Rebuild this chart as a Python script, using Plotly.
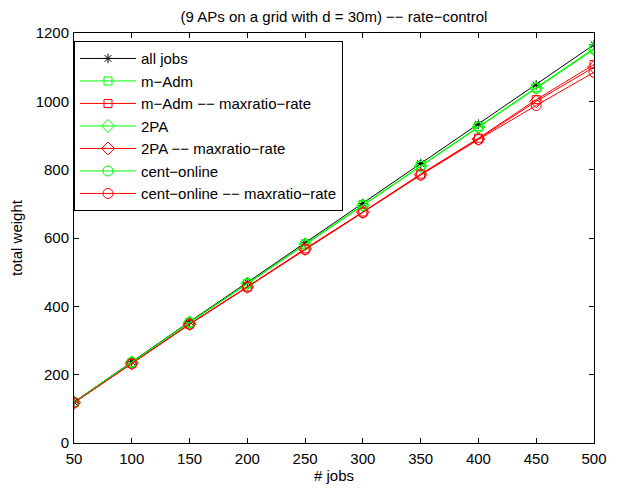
import plotly.graph_objects as go

jobs = [50, 100, 150, 200, 250, 300, 350, 400, 450, 500]
all_jobs = [120, 238, 355, 470, 586, 701, 818, 933, 1048, 1166]
m_adm = [119, 236, 353, 467, 582, 697, 812, 926, 1040, 1155]
m_adm_mr = [118, 233, 348, 457, 568, 676, 787, 892, 1005, 1108]
two_pa = [119, 236, 353, 467, 582, 696, 811, 925, 1039, 1153]
two_pa_mr = [118, 233, 348, 457, 568, 676, 786, 890, 1000, 1100]
cent = [119, 236, 352, 466, 581, 695, 810, 924, 1038, 1152]
cent_mr = [118, 232, 347, 456, 566, 674, 784, 888, 988, 1085]

names = ["all jobs", "m−Adm", "m−Adm −− maxratio−rate", "2PA", "2PA −− maxratio−rate",
         "cent−online", "cent−online −− maxratio−rate"]
series = [all_jobs, m_adm, m_adm_mr, two_pa, two_pa_mr, cent, cent_mr]
colors = ["#000000", "#00ff00", "#ff0000", "#00ff00", "#ff0000", "#00ff00", "#ff0000"]
symbols = ["asterisk-open", "square-open", "square-open", "diamond-open", "diamond-open",
           "circle-open", "circle-open"]
sizes = [8, 8, 8, 10, 10, 10, 10]

fig = go.Figure()
for n, s, c, sym, sz in zip(names, series, colors, symbols, sizes):
    fig.add_trace(go.Scatter(x=jobs, y=s, name=n, mode="lines+markers",
                             line=dict(color=c, width=1),
                             marker=dict(symbol=sym, size=sz, color=c, line=dict(color=c, width=1))))

font = "Liberation Sans, Arial, Helvetica, sans-serif"
axis_common = dict(showline=True, linecolor="black", linewidth=1, mirror="ticks",
                   ticks="inside", ticklen=5, tickcolor="black", showgrid=False,
                   zeroline=False, automargin=False,
                   tickfont=dict(size=15, color="black", family=font))
fig.update_layout(
    width=619, height=491,
    paper_bgcolor="white", plot_bgcolor="white",
    margin=dict(l=66, r=33, t=25, b=56),
    font=dict(family=font, color="black", size=15),
    title=dict(text="(9 APs on a grid with d = 30m) −− rate−control", x=0.5,
               xref="paper", yref="container", y=0.982, yanchor="middle",
               font=dict(size=15, color="black")),
    xaxis=dict(range=[50, 500], tickvals=jobs, ticklabelstandoff=2,
               title=dict(text="# jobs", font=dict(size=15), standoff=1),
               **axis_common),
    yaxis=dict(range=[0, 1200], tickvals=[0, 200, 400, 600, 800, 1000, 1200], ticklabelstandoff=1,
               title=dict(text="total weight", font=dict(size=15), standoff=12), **axis_common),
    legend=dict(x=0.0, y=0.98, xanchor="left", yanchor="top", bgcolor="white",
                bordercolor="black", borderwidth=1, font=dict(size=15, color="black"),
                itemwidth=56, tracegroupgap=0),
    showlegend=True,
)
fig.write_html("out.html")
